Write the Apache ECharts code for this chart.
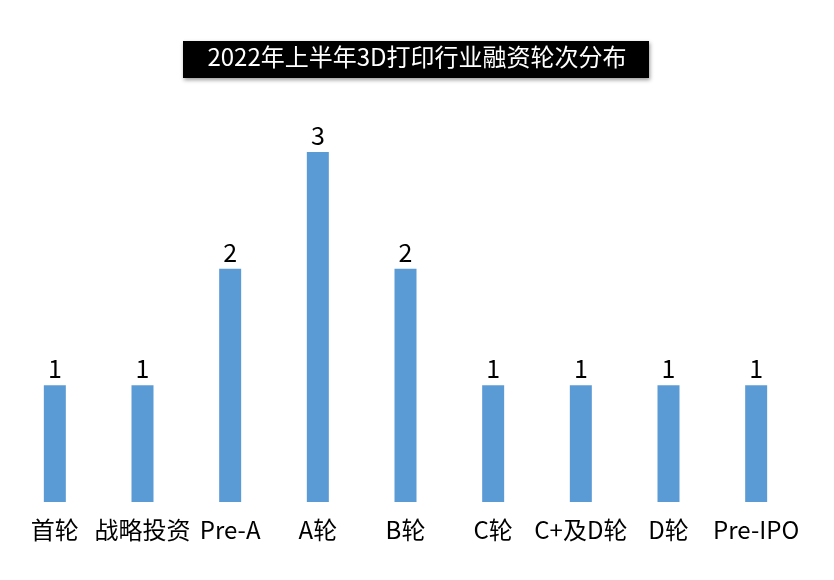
<!DOCTYPE html>
<html><head><meta charset="utf-8">
<script src="https://cdn.jsdelivr.net/npm/echarts@6/dist/echarts.min.js"></script>
<style>html,body{margin:0;padding:0;background:#fff}#c{width:834px;height:580px}</style>
</head><body><div id="c"></div>
<script>
const titleText = '2022年上半年3D打印行业融资轮次分布';
const categories = ['首轮','战略投资','Pre-A','A轮','B轮','C轮','C+及D轮','D轮','Pre-IPO'];
const values = [1,1,2,3,2,1,1,1,1];

const chart = echarts.init(document.getElementById('c'));
chart.setOption({
  backgroundColor:'#fff',
  graphic:[{
    type:'rect', left:183, top:41, shape:{width:466,height:37},
    style:{fill:'#000', shadowBlur:4, shadowOffsetX:1, shadowOffsetY:2, shadowColor:'rgba(0,0,0,0.4)'}
  },{
    type:'text', left:'center', top:45,
    style:{text:titleText, fill:'#fff', font:'24px "Noto Sans CJK SC", sans-serif'}
  }],
  grid:{left:11, right:34, top:152, bottom:78, containLabel:false},
  xAxis:{type:'category', data:categories,
    axisLine:{show:false}, axisTick:{show:false},
    axisLabel:{color:'#000', fontSize:24, margin:16, fontFamily:'"Noto Sans CJK SC", sans-serif', interval:0}},
  yAxis:{type:'value', min:0, max:3, show:false, splitLine:{show:false}},
  series:[{type:'bar', data:values, barWidth:22,
    itemStyle:{color:'#5B9BD5'},
    label:{show:true, position:'top', color:'#000', fontSize:25, distance:4, fontFamily:'"Noto Sans CJK SC", sans-serif'}}]
});
</script></body></html>
